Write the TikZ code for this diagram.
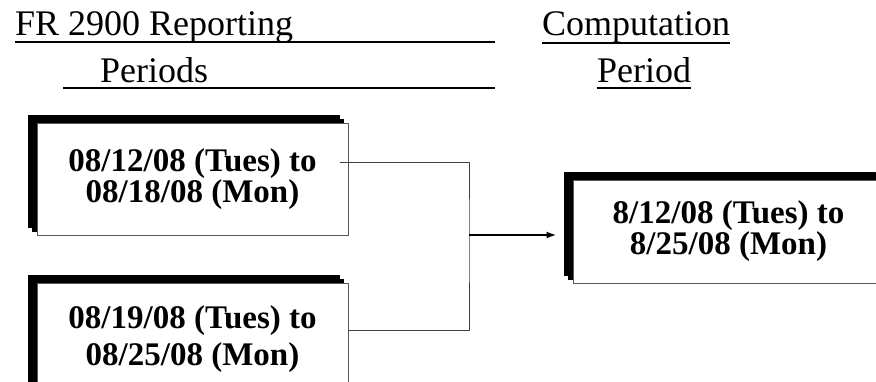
\documentclass[tikz,border=0pt]{standalone}
\usepackage{fontspec}
\setmainfont{Liberation Serif}
\usetikzlibrary{shadows,arrows.meta}
\tikzset{
  period/.style={draw=gray!70!black, line width=0.9pt, fill=white, minimum width=311pt, minimum height=112pt, inner sep=0pt, align=center, font=\bfseries\fontsize{33}{29}\selectfont, double copy shadow={shadow xshift=-4.5pt, shadow yshift=4pt, fill=black, draw=black, opacity=1}},
  head/.style={anchor=base west, inner sep=0pt, font=\fontsize{36}{40}\selectfont},
  rule/.style={line width=2.2pt},
  link/.style={line width=0.9pt, draw=black!75},
}
\begin{document}
\begin{tikzpicture}[x=1pt, y=-1pt, line join=round, >={Latex[length=10pt,width=7pt]}]
			\useasboundingbox (0,0) rectangle (876,381);
			\path 
			(192.5,179) coordinate (P1)
			(192.5,339) coordinate (P2)
			(728.5,231.5) coordinate (C)
			(469,235) coordinate (J)
			;
			\node[head] (fr) at (15,35) {FR 2900 Reporting};
			\node[head] (per) at (100,82) {Periods};
			\node[head] (comp) at (542,35) {Computation};
			\node[head] (cper) at (597,82) {Period};
			\draw[rule] (15,42) -- (495,42);
			\draw[rule] (63,88) -- (495,88);
			\draw[rule] (comp.west |- 0,43) -- (comp.east |- 0,43);
			\draw[rule] (cper.west |- 0,88) -- (cper.east |- 0,88);
			\node[period] (p1) at (P1) {08/12/08 (Tues) to\\08/18/08 (Mon)};
			\node[period, font=\bfseries\fontsize{33}{37}\selectfont] (p2) at (P2) {08/19/08 (Tues) to\\08/25/08 (Mon)};
			\node[period, minimum height=103pt, font=\bfseries\fontsize{33}{28}\selectfont] (c) at (C) {8/12/08 (Tues) to\\8/25/08 (Mon)};
			\draw[link] ([xshift=-8pt,yshift=17pt]p1.east) -| (J) |- ([yshift=9pt]p2.east);
			\draw[->, line width=2.2pt, shorten >=16pt] (J) -- (J -| c.west);
			\end{tikzpicture}
\end{document}
